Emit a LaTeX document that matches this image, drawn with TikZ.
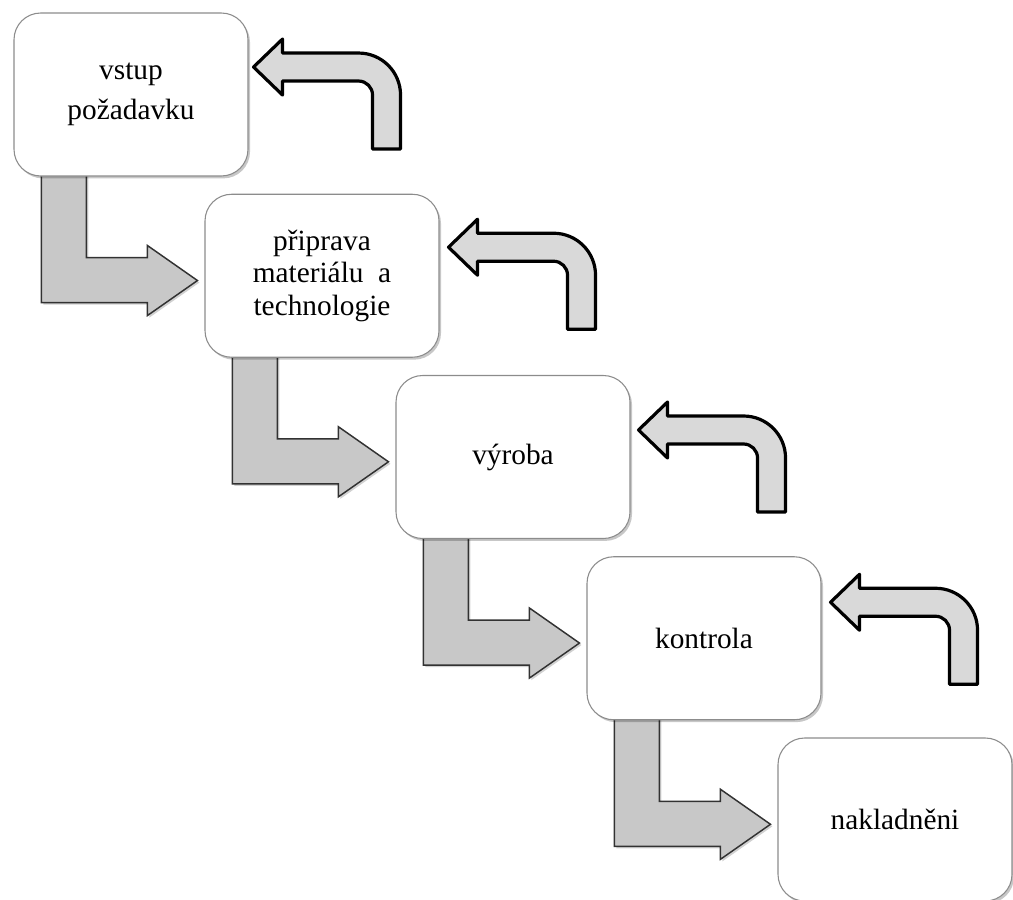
\documentclass[tikz,border=0pt]{standalone}
\usepackage{fontspec}
\setmainfont{Liberation Serif}
\usetikzlibrary{shadows,backgrounds,calc}
\definecolor{boxline}{RGB}{140,140,140}
\definecolor{downfill}{RGB}{200,200,200}
\definecolor{downline}{RGB}{50,50,50}
\definecolor{backfill}{RGB}{217,217,217}
\tikzset{
  stepbox/.style={draw=boxline, line width=0.8pt, fill=white, rounded corners=20pt,
    minimum width=175.5pt, minimum height=122.25pt, inner sep=0pt,
    align=center, font=\fontsize{22}{24.4}\selectfont,
    drop shadow={shadow xshift=1.5pt, shadow yshift=-1.8pt, opacity=0.22, fill=black}},
  downarrow/.style={draw=downline, line width=1.1pt, fill=downfill, line join=miter,
    drop shadow={shadow xshift=1.5pt, shadow yshift=-1.5pt, opacity=0.18, fill=black}},
  backarrow/.style={draw=black, line width=2.4pt, fill=backfill, line join=round},
}
\newcommand{\downshape}{(28,-4) -- (73,-4) -- (73,81) -- (134,81) -- (134,69) -- (184,104) -- (134,139) -- (134,126) -- (28,126) -- cycle}
\newcommand{\backshape}{(0,0) -- (29,-28) -- (29,-14) -- (105,-14) .. controls (128.2,-14) and (147,4.8) .. (147,28) -- (147,82) -- (119,82) -- (119,28) .. controls (119,20.27) and (112.73,14) .. (105,14) -- (29,14) -- (29,28) -- cycle}
\begin{document}
\begin{tikzpicture}[x=0.75pt, y=-0.75pt]
\useasboundingbox (0,0) rectangle (1013,899);
\node[stepbox] (b1) at (131,94.5) {vstup\\[5.6pt]požadavku};
\node[stepbox] (b2) at (322,275.75) {připrava\\materiálu\ \ a\\technologie};
\node[stepbox] (b3) at (513,457) {výroba};
\node[stepbox] (b4) at (704,638.25) {kontrola};
\node[stepbox] (b5) at (895,819.5) {nakladněni};
\begin{scope}[on background layer]
  \foreach \b in {b1,b2,b3,b4}{
    \draw[downarrow, shift={(\b.south west)}] \downshape;
  }
  \draw[backarrow, shift={($(b1.east)+(3.75pt,20.6pt)$)}] \backshape;
  \draw[backarrow, shift={($(b2.east)+(6.75pt,21.4pt)$)}] \backshape;
  \draw[backarrow, shift={($(b3.east)+(6pt,20.25pt)$)}] \backshape;
  \draw[backarrow, shift={($(b4.east)+(6.75pt,27pt)$)}] \backshape;
\end{scope}
\end{tikzpicture}
\end{document}
